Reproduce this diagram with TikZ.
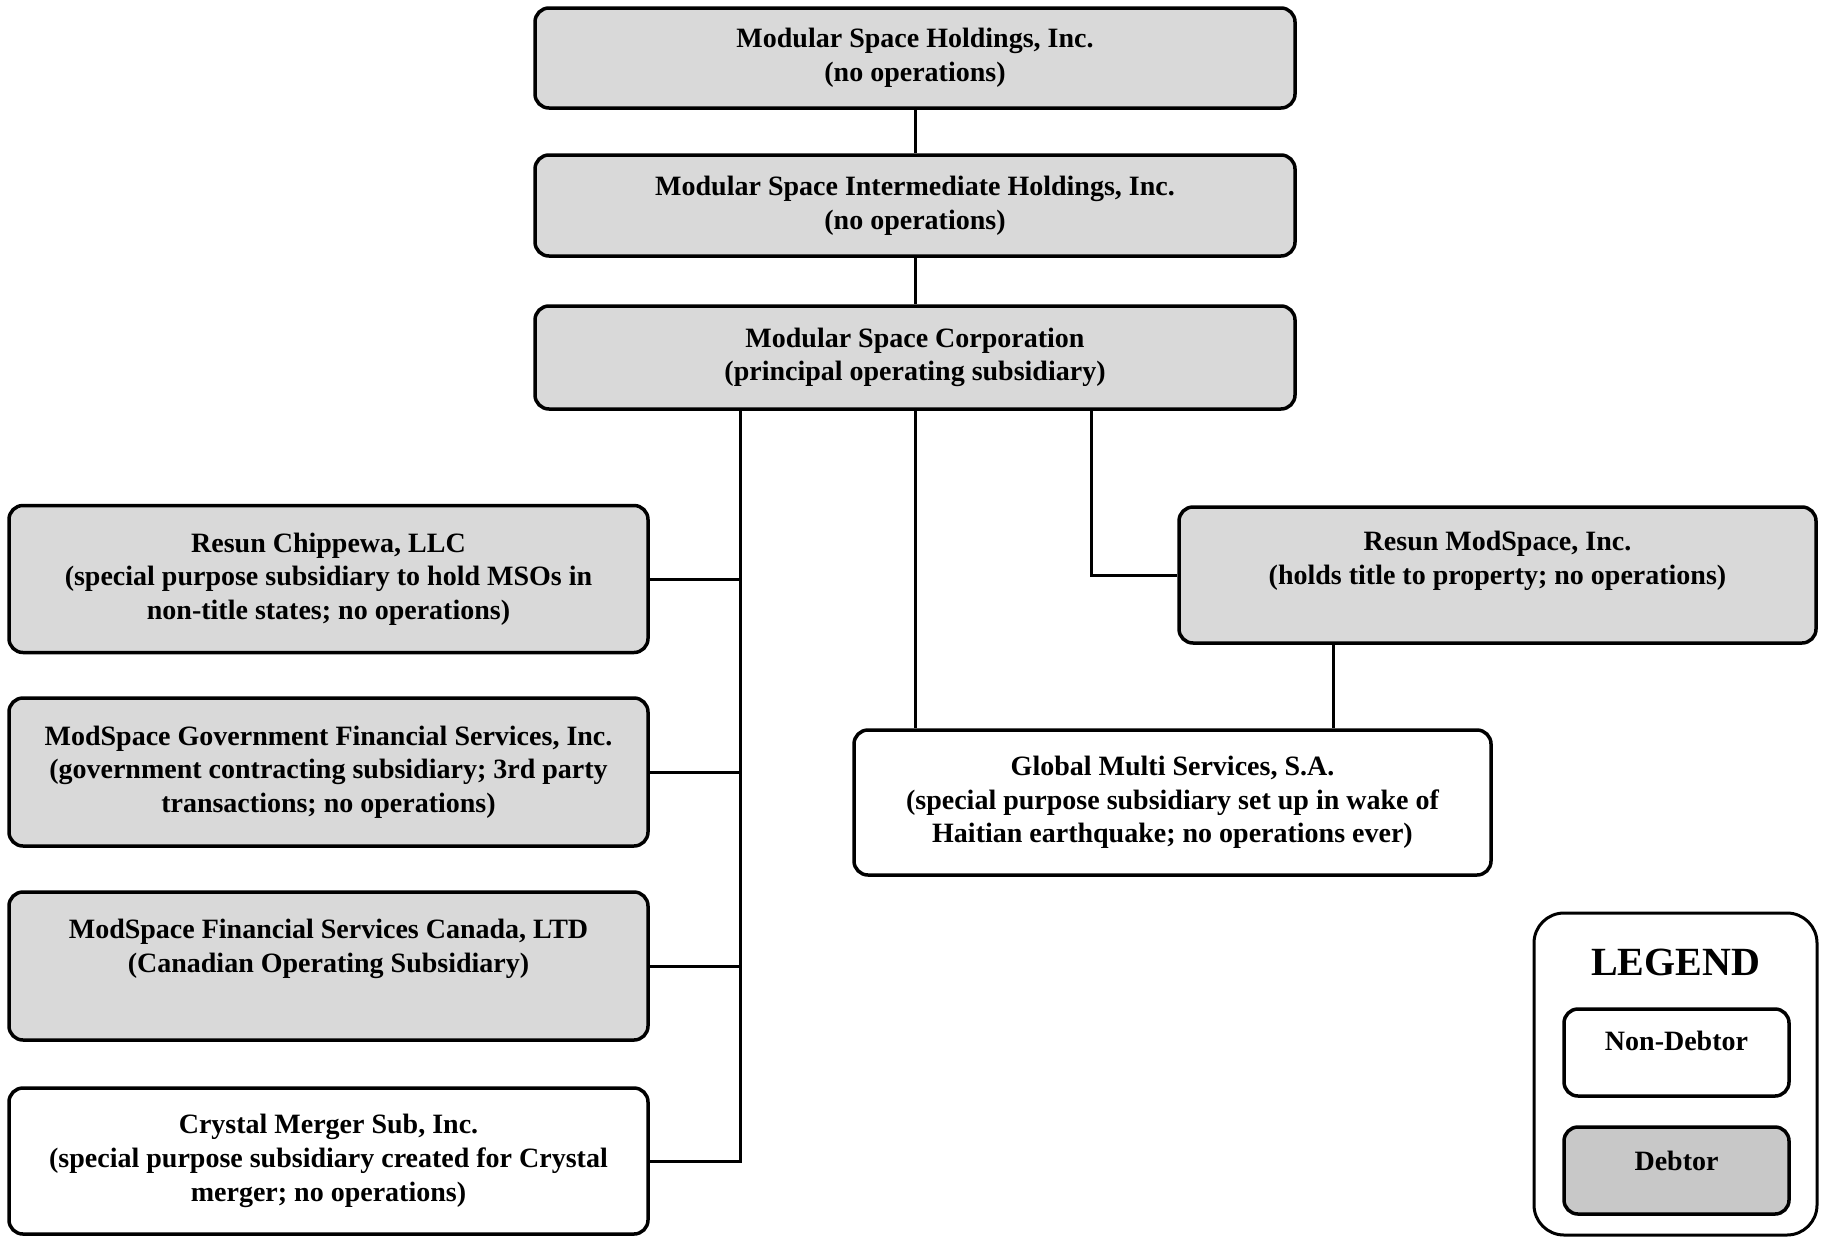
\documentclass[tikz,border=0pt]{standalone}
\usepackage{fontspec}
\setmainfont{Liberation Serif}
\usepackage{tikz}
\usetikzlibrary{positioning,calc}
\definecolor{DebtorGray}{HTML}{D9D9D9}
\definecolor{LegendGray}{HTML}{C8C8C8}

\begin{document}
\begin{tikzpicture}[
    x=1pt, y=-1pt,
    entity/.style={
      draw=black,
      line width=3.5pt,
      fill=#1,
      rounded corners=14pt,
      align=center,
      inner sep=0pt,
      font=\bfseries\fontsize{28}{33.7}\selectfont
    },
    debtor/.style={entity=DebtorGray},
    nondebtor/.style={entity=white},
    link/.style={
      line width=3pt,
      color=black
    }
  ]
  \useasboundingbox[fill=white] (0,0) rectangle (1822,1237);

  % Holding chain
  \node[debtor, minimum width=760pt, minimum height=100pt] (hold) at (915,58)
    {Modular Space Holdings, Inc.\\(no operations)};
  \node[debtor, minimum width=760pt, minimum height=101pt] (inter) at (915,205.5)
    {Modular Space Intermediate Holdings, Inc.\\(no operations)};
  \node[debtor, minimum width=760pt, minimum height=103pt] (corp) at (915,357.5)
    {Modular Space Corporation\\(principal operating subsidiary)};

  % Left column of subsidiaries
  \node[debtor, minimum width=639pt, minimum height=147pt] (chip) at (328.5,579)
    {Resun Chippewa, LLC\\(special purpose subsidiary to hold MSOs in\\non-title states; no operations)};
  \node[debtor, minimum width=639pt, minimum height=148pt] (gov) at (328.5,772)
    {ModSpace Government Financial Services, Inc.\\(government contracting subsidiary; 3rd party\\transactions; no operations)};
  \node[debtor, minimum width=639pt, minimum height=148pt, text depth=40pt] (canada) at (328.5,966)
    {ModSpace Financial Services Canada, LTD\\(Canadian Operating Subsidiary)};
  \node[nondebtor, minimum width=639pt, minimum height=146pt] (crystal) at (328.5,1161)
    {Crystal Merger Sub, Inc.\\(special purpose subsidiary created for Crystal\\merger; no operations)};

  % Right side
  \node[debtor, minimum width=637pt, minimum height=136pt, text depth=34pt] (resun) at (1497.5,575)
    {Resun ModSpace, Inc.\\(holds title to property; no operations)};
  \node[nondebtor, minimum width=637pt, minimum height=145pt] (global) at (1172.5,802.5)
    {Global Multi Services, S.A.\\(special purpose subsidiary set up in wake of\\Haitian earthquake; no operations ever)};

  % Legend
  \node[draw=black, line width=3pt, rounded corners=30pt, minimum width=283pt,
        minimum height=322pt] (legend) at (1675.5,1074) {};
  \node[font=\bfseries\fontsize{40}{44}\selectfont] (legtitle) at (1675.5,962) {LEGEND};
  \node[nondebtor, minimum width=225pt, minimum height=87pt, text depth=24pt] (legnon) at (1676.5,1052.5)
    {Non-Debtor};
  \node[entity=LegendGray, minimum width=225pt, minimum height=87pt, text depth=20pt] (legdeb) at (1676.5,1170.5)
    {Debtor};

  % Connectors
  \coordinate (ltop) at ($(corp.south west)+(207,0)$);
  \coordinate (rtop) at ($(corp.south east)+(-205,0)$);
  \coordinate (rbot) at ($(resun.south)+(-164,0)$);
  \draw[link] (hold.south) -- (inter.north);
  \draw[link] (inter.south) -- (corp.north);
  \draw[link] (ltop) |- (chip.east);
  \draw[link] (ltop) |- (gov.east);
  \draw[link] (ltop) |- (canada.east);
  \draw[link] (ltop) |- (crystal.east);
  \draw[link] (corp.south) -- (corp.south |- global.north);
  \draw[link] (rtop) |- (resun.west);
  \draw[link] (rbot) -- (rbot |- global.north);

\end{tikzpicture}
\end{document}
